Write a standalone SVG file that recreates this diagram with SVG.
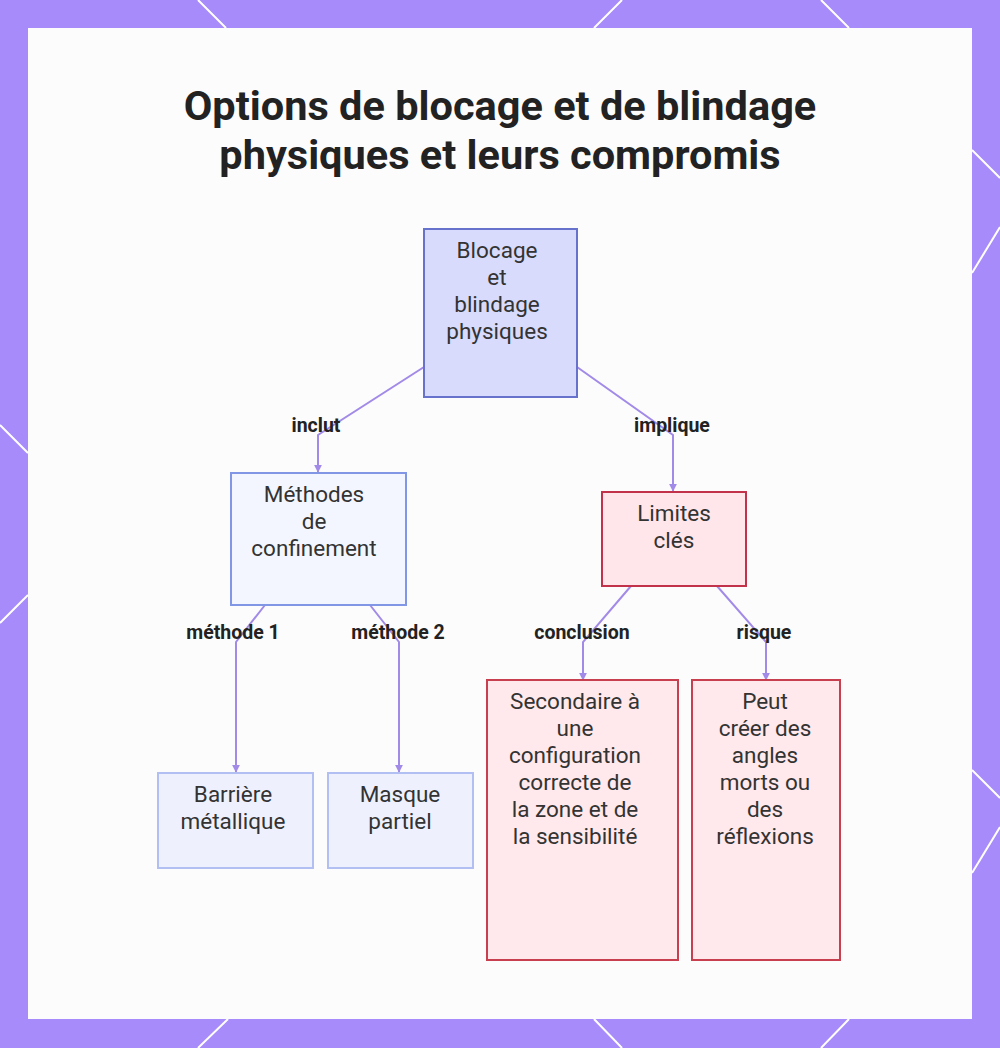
<svg xmlns="http://www.w3.org/2000/svg" width="1000" height="1048" viewBox="0 0 1000 1048">
  <style>
    .title { font-family: Roboto, "Liberation Sans", sans-serif; font-weight: 700; font-size: 41.5px; fill: #222; text-anchor: middle; }
    .nt { font-family: Roboto, "Liberation Sans", sans-serif; font-size: 22.5px; fill: #333; text-anchor: middle; }
    .lbl { font-family: Roboto, "Liberation Sans", sans-serif; font-weight: 700; font-size: 19.5px; fill: #222; text-anchor: middle; }
    .edge { fill: none; stroke: #a28ae8; stroke-width: 2; marker-end: url(#arrow); }
    .deco { stroke: #ffffff; stroke-width: 2; }
    .root { fill: #d8dbfc; stroke: #6672cc; stroke-width: 2; }
    .mid { fill: #f4f6ff; stroke: #8296e6; stroke-width: 2; }
    .leafb { fill: #eef1fd; stroke: #b2bff2; stroke-width: 2; }
    .lim { fill: #ffe6ea; stroke: #c2334b; stroke-width: 2; }
    .leafr { fill: #ffe9ec; stroke: #c84050; stroke-width: 2; }
  </style>
  <defs>
    <marker id="arrow" viewBox="0 0 10 10" refX="9" refY="5" markerWidth="4" markerHeight="4" orient="auto">
      <path d="M0,0 L10,5 L0,10 z" fill="#a28ae8"/>
    </marker>
  </defs>

  <g id="background">
    <rect x="0" y="0" width="1000" height="1048" fill="#a78bfa"/>
    <line class="deco" x1="198" y1="0" x2="226" y2="28"/>
    <line class="deco" x1="622" y1="0" x2="594" y2="28"/>
    <line class="deco" x1="821" y1="0" x2="849" y2="28"/>
    <line class="deco" x1="228" y1="1019" x2="198" y2="1048"/>
    <line class="deco" x1="594" y1="1019" x2="622" y2="1048"/>
    <line class="deco" x1="849" y1="1019" x2="821" y2="1048"/>
    <line class="deco" x1="0" y1="425" x2="28" y2="453"/>
    <line class="deco" x1="28" y1="595" x2="0" y2="623"/>
    <line class="deco" x1="972" y1="150" x2="1000" y2="178"/>
    <line class="deco" x1="1000" y1="227" x2="972" y2="273"/>
    <line class="deco" x1="972" y1="770" x2="1000" y2="798"/>
    <line class="deco" x1="1000" y1="827" x2="972" y2="873"/>
    <rect x="28" y="28" width="944" height="991" fill="#fcfcfc"/>
  </g>

  <g id="title">
    <text class="title" x="500" y="120">Options de blocage et de blindage</text>
    <text class="title" x="500" y="169">physiques et leurs compromis</text>
  </g>

  <g id="connectors">
    <path class="edge" d="M424,367 L318,435 L318,472"/>
    <path class="edge" d="M577,367 L673,435 L673,491"/>
    <path class="edge" d="M265,605 L236,642 L236,772"/>
    <path class="edge" d="M370,605 L399,642 L399,772"/>
    <path class="edge" d="M631,586 L583,642 L583,680"/>
    <path class="edge" d="M717,586 L766,642 L766,680"/>
    <text class="lbl" x="316" y="432">inclut</text>
    <text class="lbl" x="672" y="432">implique</text>
    <text class="lbl" x="233" y="639">méthode 1</text>
    <text class="lbl" x="398" y="639">méthode 2</text>
    <text class="lbl" x="582" y="639">conclusion</text>
    <text class="lbl" x="764" y="639">risque</text>
  </g>

  <g id="node-root">
    <rect class="root" x="424" y="229" width="153" height="168"/>
    <text class="nt" x="497" y="258">Blocage</text>
    <text class="nt" x="497" y="285">et</text>
    <text class="nt" x="497" y="312">blindage</text>
    <text class="nt" x="497" y="339">physiques</text>
  </g>

  <g id="node-methodes">
    <rect class="mid" x="231" y="473" width="175" height="132"/>
    <text class="nt" x="314" y="502">Méthodes</text>
    <text class="nt" x="314" y="529">de</text>
    <text class="nt" x="314" y="556">confinement</text>
  </g>

  <g id="node-limites">
    <rect class="lim" x="602" y="492" width="144" height="94"/>
    <text class="nt" x="674" y="521">Limites</text>
    <text class="nt" x="674" y="548">clés</text>
  </g>

  <g id="node-barriere">
    <rect class="leafb" x="158" y="773" width="155" height="95"/>
    <text class="nt" x="233" y="802">Barrière</text>
    <text class="nt" x="233" y="829">métallique</text>
  </g>

  <g id="node-masque">
    <rect class="leafb" x="328" y="773" width="145" height="95"/>
    <text class="nt" x="400" y="802">Masque</text>
    <text class="nt" x="400" y="829">partiel</text>
  </g>

  <g id="node-secondaire">
    <rect class="leafr" x="487" y="680" width="191" height="280"/>
    <text class="nt" x="575" y="709">Secondaire à</text>
    <text class="nt" x="575" y="736">une</text>
    <text class="nt" x="575" y="763">configuration</text>
    <text class="nt" x="575" y="790">correcte de</text>
    <text class="nt" x="575" y="817">la zone et de</text>
    <text class="nt" x="575" y="844">la sensibilité</text>
  </g>

  <g id="node-peut">
    <rect class="leafr" x="692" y="680" width="148" height="280"/>
    <text class="nt" x="765" y="709">Peut</text>
    <text class="nt" x="765" y="736">créer des</text>
    <text class="nt" x="765" y="763">angles</text>
    <text class="nt" x="765" y="790">morts ou</text>
    <text class="nt" x="765" y="817">des</text>
    <text class="nt" x="765" y="844">réflexions</text>
  </g>
</svg>
